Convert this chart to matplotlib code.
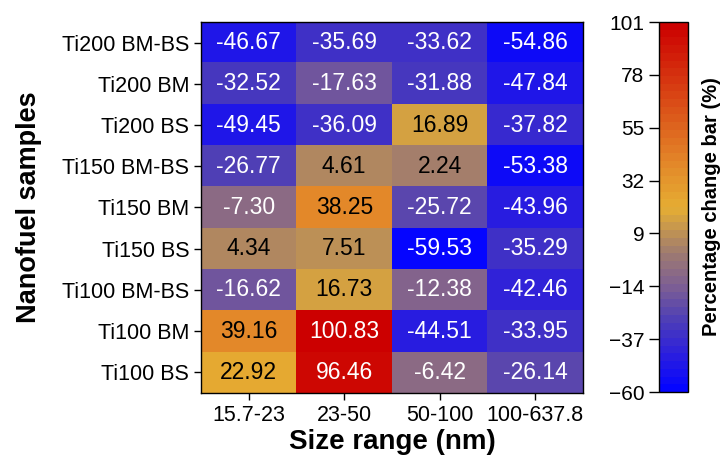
import numpy as np
import matplotlib
matplotlib.use("Agg")
import matplotlib.pyplot as plt
from matplotlib.colors import LinearSegmentedColormap, Normalize

plt.rcParams['font.family'] = ['Liberation Sans', 'DejaVu Sans']

samples = ["Ti200 BM-BS", "Ti200 BM", "Ti200 BS", "Ti150 BM-BS", "Ti150 BM",
           "Ti150 BS", "Ti100 BM-BS", "Ti100 BM", "Ti100 BS"]
size_ranges = ["15.7-23", "23-50", "50-100", "100-637.8"]
values = np.array([
    [-46.67, -35.69, -33.62, -54.86],
    [-32.52, -17.63, -31.88, -47.84],
    [-49.45, -36.09, 16.89, -37.82],
    [-26.77, 4.61, 2.24, -53.38],
    [-7.30, 38.25, -25.72, -43.96],
    [4.34, 7.51, -59.53, -35.29],
    [-16.62, 16.73, -12.38, -42.46],
    [39.16, 100.83, -44.51, -33.95],
    [22.92, 96.46, -6.42, -26.14],
])
cbar_ticks = [101, 78, 55, 32, 9, -14, -37, -60]
vmin, vmax = -60, 101

def f(v):
    return (v - vmin) / (vmax - vmin)

cmap = LinearSegmentedColormap.from_list("custom", [
    (0.0, (0.02, 0.02, 1.0)),
    (f(-45), (0.17, 0.12, 0.87)),
    (f(-30), (0.3, 0.24, 0.72)),
    (f(-15), (0.49, 0.37, 0.58)),
    (f(0), (0.62, 0.48, 0.44)),
    (f(20), (0.9, 0.68, 0.2)),
    (f(40), (0.89, 0.53, 0.16)),
    (f(70), (0.85, 0.27, 0.08)),
    (1.0, (0.8, 0.0, 0.0)),
], N=48)

fig = plt.figure(figsize=(7.23, 4.61), dpi=100)
ax = fig.add_axes([201/723, 1-393/461, (583-201)/723, (393-22)/461])
norm = Normalize(vmin=vmin, vmax=vmax)
im = ax.imshow(values, cmap=cmap, norm=norm, aspect='auto')

for i in range(values.shape[0]):
    for j in range(values.shape[1]):
        v = values[i, j]
        col = 'black' if 0 < v < 90 else 'white'
        ax.text(j, i, f"{v:.2f}", ha='center', va='center', fontsize=16.5, color=col)

ax.set_xticks(range(len(size_ranges)))
ax.set_xticklabels(size_ranges, fontsize=15.5)
ax.set_yticks(range(len(samples)))
ax.set_yticklabels(samples, fontsize=15.5)
ax.tick_params(length=5, width=1)
for s in ax.spines.values():
    s.set_linewidth(1)
ax.set_xlabel("Size range (nm)", fontsize=20, fontweight='bold', labelpad=2)
ax.set_ylabel("Nanofuel samples", fontsize=19.5, fontweight='bold', labelpad=14)

cax = fig.add_axes([659/723, 1-392/461, 29/723, (392-22)/461])
cb = fig.colorbar(im, cax=cax, ticks=cbar_ticks)
cb.ax.yaxis.set_ticks_position('left')
cb.ax.yaxis.set_label_position('right')
cb.ax.set_yticklabels([f"{t}".replace('-', '\u2212') for t in cbar_ticks], fontsize=15)
cb.ax.tick_params(length=7, width=1)
cb.set_label("Percentage change bar (%)", fontsize=14.5, fontweight='bold', labelpad=10)
cb.outline.set_linewidth(1)

fig.savefig("out.png", dpi=100)
